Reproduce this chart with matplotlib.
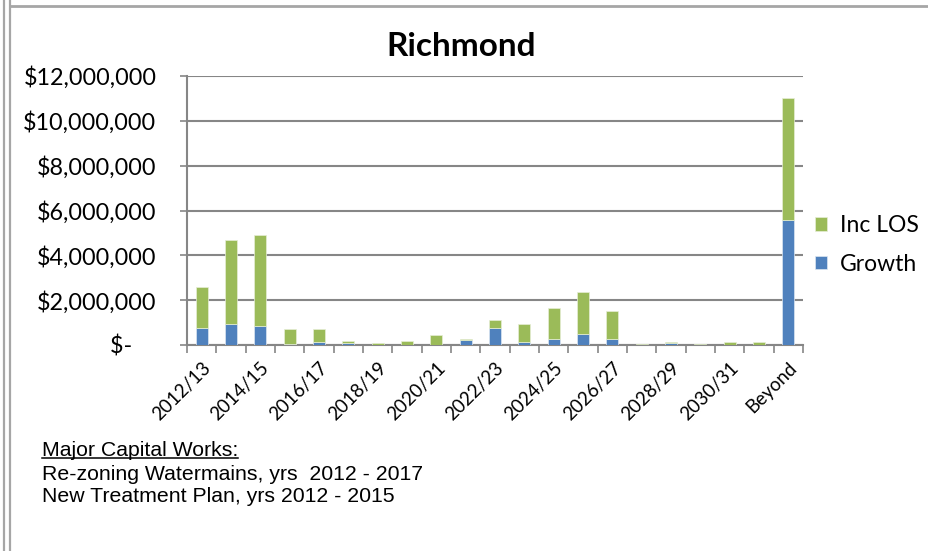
import matplotlib
matplotlib.use("Agg")
import matplotlib.pyplot as plt
from matplotlib.lines import Line2D
from matplotlib.ticker import FuncFormatter, MultipleLocator
import numpy as np

# Financial years, plus the unscheduled remainder
periods = ["2012/13", "2013/14", "2014/15", "2015/16", "2016/17", "2017/18",
           "2018/19", "2019/20", "2020/21", "2021/22", "2022/23", "2023/24",
           "2024/25", "2025/26", "2026/27", "2027/28", "2028/29", "2029/30",
           "2030/31", "2031/32", "Beyond"]

# Capital spend by driver ($)
growth = [740_000, 920_000, 830_000, 40_000, 120_000, 100_000,
          0, 0, 10_000, 210_000, 740_000, 120_000,
          270_000, 490_000, 270_000, 0, 70_000, 0,
          0, 0, 5_580_000]
inc_los = [1_860_000, 3_770_000, 4_080_000, 690_000, 580_000, 90_000,
           100_000, 160_000, 440_000, 70_000, 380_000, 800_000,
           1_360_000, 1_880_000, 1_230_000, 60_000, 80_000, 60_000,
           150_000, 150_000, 5_430_000]

notes_heading = "Major Capital Works:"
notes_lines = ["Re-zoning Watermains, yrs  2012 - 2017",
               "New Treatment Plan, yrs 2012 - 2015"]

GREEN = "#9BBB59"
BLUE = "#4F81BD"
GRID = "#868686"
FONT = "Lato"

W, H = 929, 551
fig = plt.figure(figsize=(W / 100, H / 100), dpi=100)
fig.patch.set_facecolor("white")

# Page frame: double rule on the left, single rule along the top
for xf in (4, 10):
    fig.add_artist(Line2D([xf / W, xf / W], [0, 1], color="#a6a6a6", lw=1.6,
                          transform=fig.transFigure))
fig.add_artist(Line2D([10 / W, 1], [1 - 6 / H, 1 - 6 / H], color="#a6a6a6",
                      lw=2.0, transform=fig.transFigure))

left, right, top, bottom = 187, 803, 76, 345
ax = fig.add_axes([left / W, 1 - bottom / H, (right - left) / W, (bottom - top) / H])

x = np.arange(len(periods))
bw = 0.42
ax.bar(x, growth, width=bw, color=BLUE, edgecolor="#dce6f2", linewidth=0.5,
       label="Growth", zorder=3)
ax.bar(x, inc_los, width=bw, bottom=growth, color=GREEN, edgecolor="#e6eed5",
       linewidth=0.5, label="Inc LOS", zorder=3)

ax.set_xlim(-0.5, len(periods) - 0.5)
ax.set_ylim(0, 12_000_000)
ax.yaxis.set_major_locator(MultipleLocator(2_000_000))


def money(v, _pos):
    if v == 0:
        return "$-    "
    return f"${v:,.0f}"


ax.yaxis.set_major_formatter(FuncFormatter(money))
ax.grid(axis="y", color=GRID, linewidth=1.5, zorder=0)
ax.set_axisbelow(True)

for side in ("top", "right"):
    ax.spines[side].set_visible(False)
for side in ("left", "bottom"):
    ax.spines[side].set_color(GRID)
    ax.spines[side].set_linewidth(1.5)

ax.tick_params(axis="y", length=5, width=1.2, color=GRID, pad=17,
               labelsize=16.8, labelcolor="black")
for lab in ax.get_yticklabels():
    lab.set_fontfamily(FONT)

# Category labels on every other bar; tick marks between categories
ax.set_xticks(x[::2])
ax.set_xticklabels(periods[::2], rotation=45, ha="right", rotation_mode="anchor",
                   fontsize=13.5, fontfamily=FONT)
ax.set_xticks(np.arange(-0.5, len(periods), 1.0), minor=True)
ax.tick_params(axis="x", which="major", length=0, pad=10)
ax.tick_params(axis="x", which="minor", length=6, width=1.2, color=GRID)

fig.text(461 / W, 1 - 47 / H, "Richmond", ha="center", va="center",
         fontsize=24, fontweight="bold", fontfamily=FONT)

handles, labels = ax.get_legend_handles_labels()
leg = fig.legend(handles[::-1], labels[::-1], loc="center left",
                 bbox_to_anchor=(794 / W, 1 - 245 / H), frameon=False,
                 prop={"family": FONT, "size": 16.5}, handlelength=0.55,
                 handleheight=0.55, handletextpad=0.55, labelspacing=0.75)

nx = 42 / W
NOTE_SIZE = 15.3
heading = fig.text(nx, 1 - 451 / H, notes_heading, ha="left", va="center",
                   fontsize=NOTE_SIZE, fontfamily="Liberation Sans")
for i, line in enumerate(notes_lines):
    fig.text(nx, 1 - (474 + 23 * i) / H, line, ha="left", va="center",
             fontsize=NOTE_SIZE, fontfamily="Liberation Sans")

# Underline the heading just below its baseline
fig.canvas.draw()
bb = heading.get_window_extent()
uy = bb.y0 + 2.5
fig.add_artist(Line2D([bb.x0 / W, bb.x1 / W], [uy / H, uy / H],
                      color="black", lw=1.1, transform=fig.transFigure))

fig.savefig("out.png", dpi=100, facecolor="white")
